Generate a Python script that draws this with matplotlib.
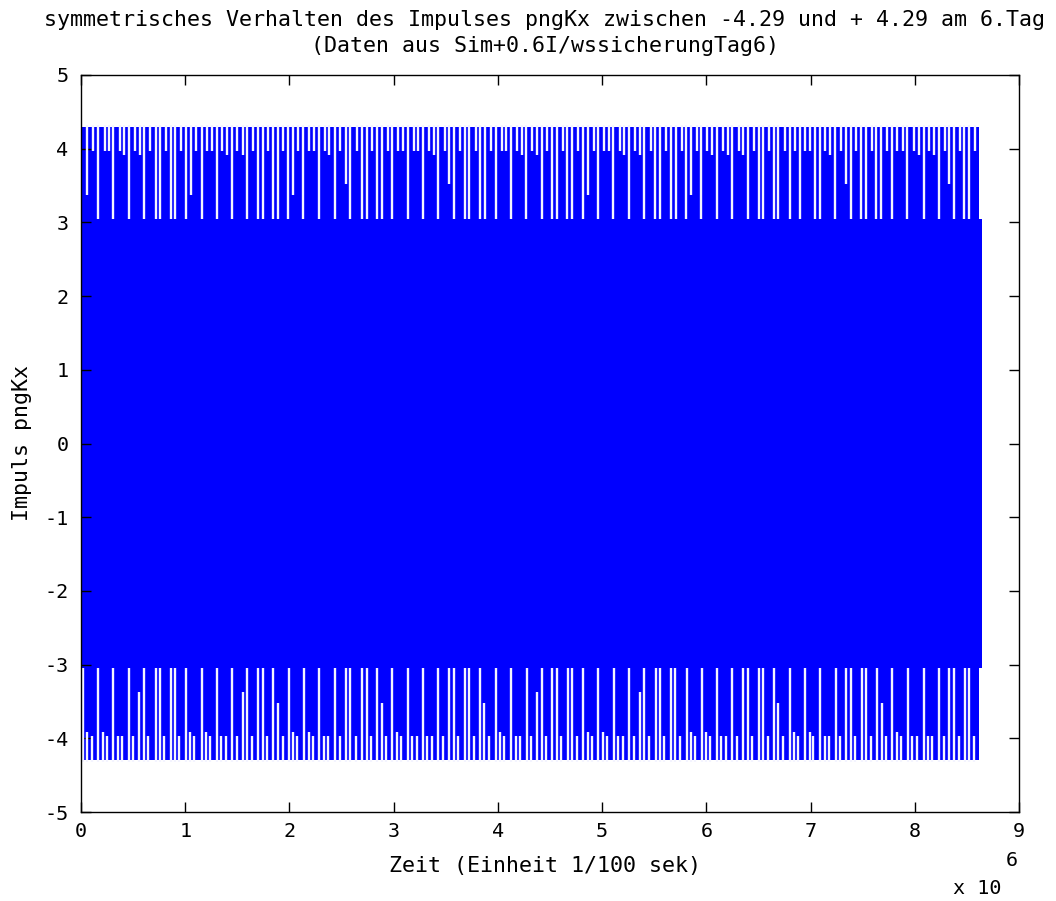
import numpy as np
import matplotlib
matplotlib.use('Agg')
import matplotlib.pyplot as plt
from matplotlib.ticker import FuncFormatter

# Zeitachse in Einheiten von 1e6 * (1/100 sek)
scale = 1e6
t_start = 0.0
t_end = 8.645        # Ende des dichten Bandes
t_spike_end = 8.62   # Ende der Spitzen
band_amp = 3.05
peak_amp = 4.29

# Tiefe der Luecken zwischen den Spitzen (Betrag des Impulses)
levels = {'S': 3.97, 'T': 3.92, 'D': 3.05, 'M': 3.37, 'N': 3.52}

# Luecken oben (Zeit, Kennung)
top_gap_t = [
    0.055, 0.112, 0.166, 0.230, 0.272, 0.310, 0.374, 0.413, 0.461, 0.518,
    0.566, 0.605, 0.662, 0.717, 0.758, 0.816, 0.861, 0.902, 0.957, 1.008,
    1.053, 1.101, 1.158, 1.206, 1.254, 1.302, 1.356, 1.398, 1.446, 1.500,
    1.552, 1.590, 1.648, 1.696, 1.744, 1.797, 1.846, 1.888, 1.941, 1.989,
    2.037, 2.085, 2.133, 2.191, 2.236, 2.284, 2.342, 2.383, 2.438, 2.486,
    2.540, 2.582, 2.646, 2.694, 2.742, 2.796, 2.841, 2.886, 2.943, 2.988,
    3.045, 3.093, 3.135, 3.193, 3.237, 3.285, 3.340, 3.388, 3.429, 3.493,
    3.535, 3.580, 3.640, 3.685, 3.727, 3.788, 3.832, 3.877, 3.932, 3.980,
    4.037, 4.079, 4.127, 4.187, 4.229, 4.274, 4.331, 4.373, 4.421, 4.475,
    4.520, 4.565, 4.623, 4.667, 4.715, 4.773, 4.821, 4.869, 4.923, 4.964,
    5.019, 5.067, 5.108, 5.173, 5.214, 5.259, 5.320, 5.365, 5.406, 5.467,
    5.512, 5.557, 5.611, 5.659, 5.707, 5.765, 5.806, 5.854, 5.909, 5.953,
    6.005, 6.059, 6.101, 6.164, 6.206, 6.251, 6.315, 6.356, 6.398, 6.459,
    6.507, 6.548, 6.606, 6.651, 6.692, 6.750, 6.798, 6.846, 6.894, 6.948,
    6.996, 7.044, 7.092, 7.140, 7.188, 7.236, 7.294, 7.339, 7.387, 7.438,
    7.486, 7.531, 7.588, 7.630, 7.675, 7.732, 7.786, 7.834, 7.886, 7.930,
    7.988, 8.036, 8.084, 8.141, 8.186, 8.231, 8.292, 8.333, 8.378, 8.436,
    8.477, 8.525, 8.580,
]
top_gap_code = ("MSDSSDSTDS" "TDSDDSDDSD" "MSDSSDSTDS" "TDSDDSDDSD"
                "MSDSSDSTDS" "NDSDDSDDSD" "SSDSSDSTDS" "NDSDDSDDSD"
                "SSDSTDSTDS" "DDSDDSDMSD" "SSDSTDSTDS" "DDSDDSDMSD"
                "STDSTDSTDS" "DDSDDSDSDS" "SDDSTDSNDS" "DDSDDSDSSD"
                "STDSTDSNDS" "DDS")

# Luecken unten
bot_gap_t = [
    0.022, 0.055, 0.103, 0.166, 0.208, 0.247, 0.310, 0.358, 0.396, 0.461,
    0.502, 0.559, 0.605, 0.646, 0.717, 0.758, 0.799, 0.861, 0.902, 0.943,
    1.008, 1.046, 1.087, 1.158, 1.200, 1.238, 1.302, 1.344, 1.389, 1.452,
    1.494, 1.552, 1.590, 1.638, 1.702, 1.744, 1.788, 1.846, 1.888, 1.936,
    1.996, 2.037, 2.076, 2.143, 2.191, 2.229, 2.287, 2.332, 2.373, 2.438,
    2.486, 2.543, 2.582, 2.636, 2.694, 2.742, 2.780, 2.841, 2.886, 2.924,
    2.988, 3.030, 3.071, 3.135, 3.180, 3.222, 3.285, 3.323, 3.366, 3.429,
    3.477, 3.535, 3.580, 3.621, 3.685, 3.727, 3.772, 3.832, 3.871, 3.916,
    3.980, 4.021, 4.062, 4.127, 4.172, 4.213, 4.277, 4.319, 4.373, 4.421,
    4.463, 4.523, 4.565, 4.609, 4.671, 4.715, 4.757, 4.821, 4.863, 4.907,
    4.964, 5.006, 5.051, 5.115, 5.156, 5.199, 5.262, 5.307, 5.365, 5.406,
    5.451, 5.515, 5.557, 5.598, 5.659, 5.701, 5.749, 5.813, 5.851, 5.895,
    5.957, 5.998, 6.036, 6.101, 6.142, 6.187, 6.251, 6.293, 6.356, 6.398,
    6.442, 6.507, 6.548, 6.590, 6.651, 6.692, 6.734, 6.798, 6.843, 6.881,
    6.948, 6.990, 7.028, 7.092, 7.134, 7.179, 7.243, 7.284, 7.342, 7.387,
    7.428, 7.492, 7.534, 7.579, 7.636, 7.684, 7.726, 7.786, 7.828, 7.870,
    7.934, 7.978, 8.020, 8.084, 8.126, 8.170, 8.228, 8.276, 8.333, 8.378,
    8.420, 8.484, 8.525, 8.570,
]
bot_gap_code = ("DTSDTSDSSD" "SMDSDDSDDS" "DTSDTSDSSD" "SMDSDDSDNS"
                "DTSDTSDSSD" "SDDSDDSDNS" "DTSDSSDSSD" "SDDSDDSDNS"
                "DTSDSSDSMD" "SDDSDDSDTS" "DTSDSSDSMD" "SDDSDDSDTS"
                "DTSDSSDSDD" "SDDSDNSDTS" "DTSDSSDSDD" "SDDSDNSDTS"
                "DSSDSSDSDD" "SDDS")

xticks = list(range(0, 10))
yticks = list(range(-5, 6))

title_1 = 'symmetrisches Verhalten des Impulses pngKx zwischen -4.29 und + 4.29 am 6.Tag'
title_2 = '(Daten aus Sim+0.6I/wssicherungTag6)'
xlabel = 'Zeit (Einheit 1/100 sek)'
ylabel = 'Impuls pngKx'

blue = '#0000ff'
font = 'DejaVu Sans Mono'
plt.rcParams['axes.unicode_minus'] = False

fig = plt.figure(figsize=(10.56, 9.01), dpi=100)
ax = fig.add_axes([81 / 1056, 1 - 812 / 901, 938 / 1056, 737 / 901])

# dichtes Band und Spitzenbereich
ax.fill_between([t_start * scale, t_end * scale], -band_amp, band_amp, color=blue, lw=0)
ax.fill_between([t_start * scale, t_spike_end * scale], band_amp, peak_amp, color=blue, lw=0)
ax.fill_between([t_start * scale, t_spike_end * scale], -peak_amp, -band_amp, color=blue, lw=0)

# Luecken zwischen den Spitzen
top_t = np.array(top_gap_t) * scale
top_lo = np.array([levels[c] for c in top_gap_code])
ax.vlines(top_t, top_lo, peak_amp + 0.03, colors='#f4f4ff', lw=1.7)
bot_t = np.array(bot_gap_t) * scale
bot_hi = -np.array([levels[c] for c in bot_gap_code])
ax.vlines(bot_t, -peak_amp - 0.03, bot_hi, colors='#f4f4ff', lw=1.7)

ax.set_xlim(0, 9 * scale)
ax.set_ylim(-5, 5)
ax.set_xticks([v * scale for v in xticks])
ax.set_yticks(yticks)
ax.xaxis.set_major_formatter(FuncFormatter(lambda v, p: '%d' % round(v / scale)))
ax.tick_params(direction='in', length=7, width=1, top=True, right=True,
               labelsize=14.5, colors='black')
ax.tick_params(axis='x', pad=7)
ax.tick_params(axis='y', pad=9)
for lab in ax.get_xticklabels() + ax.get_yticklabels():
    lab.set_family(font)
for sp in ax.spines.values():
    sp.set_linewidth(1.0)

fig.text(545 / 1056, 1 - 20 / 901, title_1, ha='center', va='center', fontsize=15.6, family=font)
fig.text(545 / 1056, 1 - 46 / 901, title_2, ha='center', va='center', fontsize=15.6, family=font)
fig.text(545 / 1056, 1 - 866 / 901, xlabel, ha='center', va='center', fontsize=15.6, family=font)
fig.text(22 / 1056, 1 - 443 / 901, ylabel, ha='center', va='center', rotation=90,
         fontsize=15.6, family=font)
fig.text(977 / 1056, 1 - 889 / 901, 'x 10', ha='center', va='center', fontsize=14.5, family=font)
fig.text(1012 / 1056, 1 - 861 / 901, '6', ha='center', va='center', fontsize=14.5, family=font)

fig.savefig('out.png', dpi=100)
